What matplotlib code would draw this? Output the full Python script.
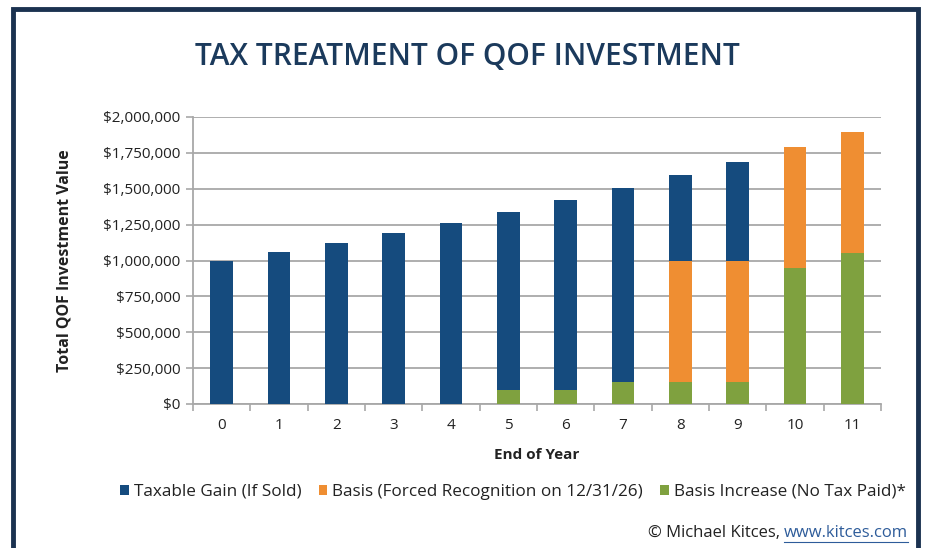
import numpy as np
import matplotlib.pyplot as plt
from matplotlib.patches import Rectangle
from matplotlib.ticker import FuncFormatter, MultipleLocator

# Values
years = ['0', '1', '2', '3', '4', '5', '6', '7', '8', '9', '10', '11']
total_value = [1000000, 1060000, 1124000, 1191000, 1262000, 1338000,
               1419000, 1504000, 1594000, 1689000, 1791000, 1898000]
basis_increase = [0, 0, 0, 0, 0, 100000, 100000, 150000, 150000, 150000, 945000, 1050000]
forced_basis = [0, 0, 0, 0, 0, 0, 0, 0, 850000, 850000, 846000, 848000]

taxable_gain = [t - b - f for t, b, f in zip(total_value, basis_increase, forced_basis)]

navy = '#154B7E'
orange = '#EF8E32'
green = '#7FA13F'
grid_gray = '#A8A8A8'
text_col = '#222222'
link_col = '#2E5C9A'

plt.rcParams['font.family'] = ['Open Sans', 'DejaVu Sans']

fig = plt.figure(figsize=(9.3, 5.48), dpi=100)
ax = fig.add_axes([193 / 930, 1 - 404 / 548, (881 - 193) / 930, (404 - 117) / 548])

x = np.arange(len(years))
w = 0.4
ax.bar(x, basis_increase, w, color=green, zorder=3,
       label='Basis Increase (No Tax Paid)*')
ax.bar(x, forced_basis, w, bottom=basis_increase, color=orange, zorder=3,
       label='Basis (Forced Recognition on 12/31/26)')
bottom2 = [b + f for b, f in zip(basis_increase, forced_basis)]
ax.bar(x, taxable_gain, w, bottom=bottom2, color=navy, zorder=3,
       label='Taxable Gain (If Sold)')

ax.set_xlim(-0.5, len(years) - 0.5)
ax.set_ylim(0, 2000000)
ax.yaxis.set_major_locator(MultipleLocator(250000))
ax.yaxis.set_major_formatter(FuncFormatter(lambda v, p: '${:,.0f}'.format(v)))
ax.set_xticks(x)
ax.set_xticklabels(years)
ax.set_xticks(np.arange(-0.5, len(years), 1), minor=True)
ax.tick_params(axis='x', which='major', length=0, pad=10, labelsize=11, labelcolor=text_col)
ax.tick_params(axis='x', which='minor', length=5, color=grid_gray, width=1.2)
ax.tick_params(axis='y', length=5, color=grid_gray, width=1.2, pad=4,
               labelsize=11, labelcolor=text_col)

ax.grid(axis='y', color=grid_gray, linewidth=1.3, zorder=0)
for s in ['top', 'right']:
    ax.spines[s].set_visible(False)
for s in ['left', 'bottom']:
    ax.spines[s].set_color(grid_gray)
    ax.spines[s].set_linewidth(1.3)

ax.set_xlabel('End of Year', fontsize=11, fontweight='bold', color=text_col, labelpad=11)
ax.set_ylabel('Total QOF Investment Value', fontsize=11.5, fontweight='bold',
              color=text_col, labelpad=22)

fig.text(0.503, 1 - 57 / 548, 'TAX TREATMENT OF QOF INVESTMENT', ha='center', va='center',
         fontsize=21.5, fontweight='semibold', color='#1B3A5C')

handles, labels = ax.get_legend_handles_labels()
fig.legend(handles[::-1], labels[::-1], loc='center', bbox_to_anchor=(513 / 930, 1 - 492 / 548),
           ncol=3, frameon=False, fontsize=12.3, handlelength=0.5, handleheight=0.5,
           handletextpad=0.3, columnspacing=1.0, labelcolor=text_col)

# footer: credit + underlined link
url = fig.text(908 / 930, 1 - 533 / 548, 'www.kitces.com', ha='right', va='center',
               fontsize=12, color=link_col)
fig.canvas.draw()
bb = url.get_window_extent().transformed(fig.transFigure.inverted())
fig.text(bb.x0, 1 - 533 / 548, '\u00a9 Michael Kitces, ', ha='right', va='center',
         fontsize=12, color=text_col)
fig.add_artist(plt.Line2D([bb.x0, bb.x1], [1 - 542 / 548, 1 - 542 / 548],
                          color=link_col, linewidth=0.8))

# dark frame around the graphic
fig.add_artist(Rectangle((13 / 930, -0.05), (918 - 13) / 930, 1.05 - 9 / 548,
                         fill=False, edgecolor='#1B3250', linewidth=3.5,
                         transform=fig.transFigure))

fig.savefig('out.png', dpi=100, facecolor='white')
